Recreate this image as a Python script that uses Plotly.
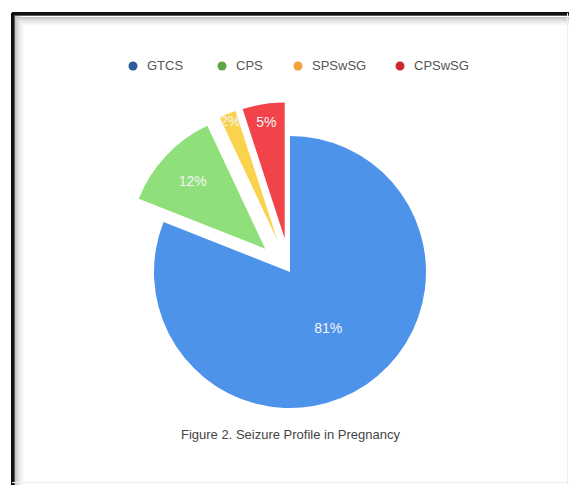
import plotly.graph_objects as go

# ---- data ----
labels = ["GTCS", "CPS", "SPSwSG", "CPSwSG"]
values = [81, 12, 2, 5]
slice_colors = ["#4e93ea", "#8fe07a", "#f9d24e", "#f2434b"]
legend_colors = ["#2d5c9c", "#5ca648", "#f0a23a", "#c9282e"]
caption = "Figure 2. Seizure Profile in Pregnancy"

W, H = 569, 485
FONT = "Liberation Sans, Arial, sans-serif"

# pie geometry (pixels)
cx, cy, r = 290, 272, 136
pull_amt = 0.25
half = r * (1 + pull_amt)

fig = go.Figure()
fig.add_trace(go.Pie(
    labels=labels,
    values=values,
    sort=False,
    direction="clockwise",
    rotation=0,
    pull=[0, pull_amt, pull_amt, pull_amt],
    marker=dict(colors=slice_colors, line=dict(width=0)),
    textinfo="percent",
    textposition="inside",
    insidetextorientation="horizontal",
    textfont=dict(family=FONT, size=14, color="#f4f4f4"),
    showlegend=False,
    hoverinfo="label+percent",
    domain=dict(x=[(cx - half) / W, (cx + half) / W],
                y=[1 - (cy + half) / H, 1 - (cy - half) / H]),
))

shapes = []
annotations = []

# custom legend (dots + labels)
leg_dot_x = [133, 222, 298, 400]
leg_y = 66
for lab, col, dx in zip(labels, legend_colors, leg_dot_x):
    shapes.append(dict(type="circle", xref="paper", yref="paper",
                       xsizemode="pixel", ysizemode="pixel",
                       xanchor=dx / W, yanchor=1 - leg_y / H,
                       x0=-4.5, x1=4.5, y0=-4.5, y1=4.5,
                       fillcolor=col, line=dict(width=0)))
    annotations.append(dict(x=(dx + 12) / W, y=1 - leg_y / H, xref="paper", yref="paper",
                            text=lab, showarrow=False, xanchor="left", yanchor="middle",
                            font=dict(family=FONT, size=13, color="#555555")))

# caption
annotations.append(dict(x=290 / W, y=1 - 434 / H, xref="paper", yref="paper",
                        text=caption, showarrow=False, xanchor="center", yanchor="middle",
                        font=dict(family=FONT, size=13, color="#444444")))

# frame with inner shadow
def vline(px, color, w=1):
    shapes.append(dict(type="line", xref="paper", yref="paper",
                       x0=px / W, x1=px / W, y0=0, y1=1 - 13 / H,
                       line=dict(color=color, width=w), layer="above"))

def hline(py, color, w=1):
    shapes.append(dict(type="line", xref="paper", yref="paper",
                       x0=12 / W, x1=1, y0=1 - py / H, y1=1 - py / H,
                       line=dict(color=color, width=w), layer="above"))

grad = ["#c4c4c4", "#cfcfcf", "#d8d8d8", "#e0e0e0", "#e7e7e7", "#eeeeee", "#f3f3f3", "#f7f7f7", "#fbfbfb"]
for i, g in enumerate(reversed(grad)):
    vline(23.5 - i, g)
    hline(25.5 - i, g)
vline(14.5, "#5a5a5a")
hline(15.5, "#5a5a5a")
vline(12.5, "#111111", 3)
hline(13.5, "#111111", 3)
vline(567.5, "#eeeeee")
hline(482.5, "#eeeeee")

fig.update_layout(
    width=W, height=H,
    margin=dict(l=0, r=0, t=0, b=0),
    paper_bgcolor="white",
    plot_bgcolor="white",
    shapes=shapes,
    annotations=annotations,
    uniformtext=dict(minsize=13, mode="show"),
)

fig.write_html("out.html")
